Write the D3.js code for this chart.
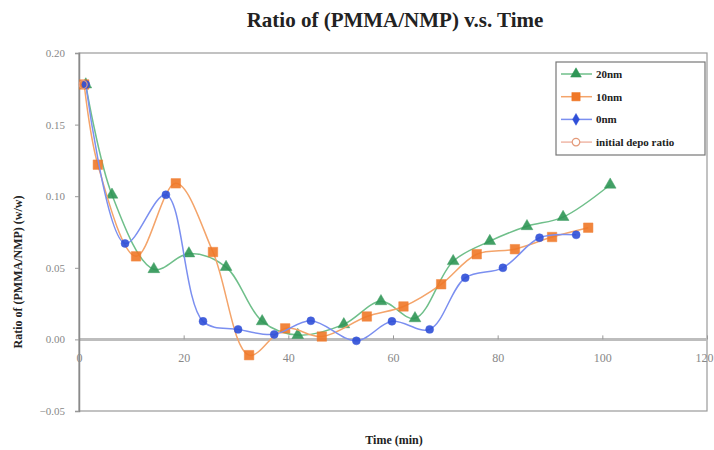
<!DOCTYPE html>
<html>
<head>
<meta charset="utf-8">
<script src="https://cdn.jsdelivr.net/npm/d3@7"></script>
<style>
  html, body { margin: 0; padding: 0; background: #fff; }
  svg { display: block; }
</style>
</head>
<body>
<div id="chart"></div>
<script>
// values (time in min, ratio w/w)
const seriesNames = ["20nm", "10nm", "0nm", "initial depo ratio"];

const time20 = [1.3, 6.3, 14.3, 21, 28.1, 35, 41.8, 50.6, 57.7, 64.2, 71.5, 78.5, 85.6, 92.5, 101.5];
const ratio20 = [0.178, 0.101, 0.049, 0.060, 0.0505, 0.0126, 0.003, 0.0105, 0.0266, 0.0147, 0.0546, 0.0686, 0.079, 0.0854, 0.108];

const time10 = [1.0, 3.6, 10.9, 18.5, 25.6, 32.5, 39.4, 46.4, 55, 62, 69.2, 76, 83.3, 90.4, 97.3];
const ratio10 = [0.178, 0.122, 0.058, 0.109, 0.061, -0.011, 0.0077, 0.002, 0.016, 0.023, 0.0385, 0.0595, 0.063, 0.0715, 0.078];

const time0 = [1.3, 8.8, 16.6, 23.7, 30.4, 37.3, 44.3, 53, 59.8, 67, 73.8, 81, 88, 95];
const ratio0 = [0.178, 0.067, 0.101, 0.0126, 0.007, 0.0035, 0.013, -0.001, 0.0126, 0.007, 0.043, 0.050, 0.071, 0.073];

const timeInit = [0.8];
const ratioInit = [0.178];

const xTicks = [0, 20, 40, 60, 80, 100, 120];
const yTicks = [-0.05, 0, 0.05, 0.10, 0.15, 0.20];

const W = 714, H = 450;
const margin = { top: 53, right: 7, bottom: 39, left: 79 };
const innerW = W - margin.left - margin.right;
const innerH = H - margin.top - margin.bottom;

const svg = d3.select("#chart").append("svg")
    .attr("width", W)
    .attr("height", H)
    .style("font-family", "'Liberation Serif', 'DejaVu Serif', serif");

svg.append("text")
    .attr("x", 395).attr("y", 27)
    .attr("text-anchor", "middle")
    .style("font-size", "21px").style("font-weight", "bold")
    .style("fill", "#222")
    .text("Ratio of (PMMA/NMP) v.s. Time");

const g = svg.append("g").attr("transform", `translate(${margin.left},${margin.top})`);

const x = d3.scaleLinear().domain([0, 120]).range([0, innerW]);
const y = d3.scaleLinear().domain([-0.05, 0.20]).range([innerH, 0]);

// frame
g.append("rect")
    .attr("width", innerW).attr("height", innerH)
    .attr("fill", "none").attr("stroke", "#9a9a9a").attr("stroke-width", 1.2);

// zero line
g.append("line")
    .attr("x1", 0).attr("x2", innerW)
    .attr("y1", y(0)).attr("y2", y(0))
    .attr("stroke", "#bdbdbd").attr("stroke-width", 3);

// x axis on the zero line
const xAxis = g.append("g")
    .attr("transform", `translate(0,${y(0)})`)
    .call(d3.axisBottom(x).tickValues(xTicks).tickFormat(d3.format("d")).tickSize(-4).tickPadding(14));
xAxis.select(".domain").remove();
xAxis.selectAll("line").attr("stroke", "#999");
xAxis.selectAll("text")
    .style("font-family", "'Liberation Serif', serif")
    .style("font-size", "12px").attr("fill", "#888")
    .filter(d => d === 120)
    .attr("text-anchor", "end").attr("dx", "6");

// y axis
const yAxis = g.append("g")
    .call(d3.axisLeft(y).tickValues(yTicks).tickFormat(d3.format(".2f")).tickSize(4).tickPadding(10));
yAxis.select(".domain").attr("stroke", "#8a8a8a").attr("stroke-width", 1.5);
yAxis.selectAll("line").attr("stroke", "#999");
yAxis.selectAll("text")
    .style("font-family", "'Liberation Serif', serif")
    .style("font-size", "11px").attr("fill", "#888");

// axis titles
svg.append("text")
    .attr("x", 394).attr("y", 444)
    .attr("text-anchor", "middle")
    .style("font-size", "12px").style("font-weight", "bold").style("fill", "#222")
    .text("Time (min)");

svg.append("text")
    .attr("transform", "translate(22,272) rotate(-90)")
    .attr("text-anchor", "middle")
    .style("font-size", "12px").style("font-weight", "bold").style("fill", "#222")
    .text("Ratio of (PMMA/NMP) (w/w)");

const series = [
  { name: seriesNames[0], t: time20, v: ratio20, color: "#2f9656", line: "#6fbf8a", shape: d3.symbolTriangle, size: 60 },
  { name: seriesNames[1], t: time10, v: ratio10, color: "#f07828", line: "#f4a46a", shape: d3.symbolSquare, size: 90 },
  { name: seriesNames[2], t: time0, v: ratio0, color: "#2f4fd8", line: "#7b8ff0", shape: d3.symbolCircle, size: 50 }
];

const line = d3.line()
    .x(d => x(d[0])).y(d => y(d[1]))
    .curve(d3.curveCatmullRom.alpha(0.5));

series.forEach(s => {
  const pts = s.t.map((t, i) => [t, s.v[i]]);
  g.append("path")
      .datum(pts)
      .attr("d", line)
      .attr("fill", "none")
      .attr("stroke", s.line)
      .attr("stroke-width", 1.5);
  g.selectAll(null)
      .data(pts)
      .join("path")
      .attr("transform", d => `translate(${x(d[0])},${y(d[1])})`)
      .attr("d", d3.symbol(s.shape, s.size)())
      .attr("fill", s.color)
      .attr("stroke", s.color)
      .attr("stroke-width", 0.5)
      .attr("opacity", 0.9);
});

// initial depo ratio
g.selectAll(null)
    .data(timeInit.map((t, i) => [t, ratioInit[i]]))
    .join("circle")
    .attr("cx", d => x(d[0])).attr("cy", d => y(d[1]))
    .attr("r", 4).attr("fill", "none")
    .attr("stroke", "#e39a7a").attr("stroke-width", 1.2);

// legend
const leg = svg.append("g").attr("transform", "translate(556,62)");
leg.append("rect")
    .attr("width", 149).attr("height", 93)
    .attr("fill", "#fff").attr("stroke", "#777").attr("stroke-width", 1.2);

const legItems = [
  { name: seriesNames[0], color: "#2f9656", line: "#6fbf8a", shape: d3.symbolTriangle, size: 50, fill: true },
  { name: seriesNames[1], color: "#f07828", line: "#f4a46a", shape: d3.symbolSquare, size: 70, fill: true },
  { name: seriesNames[2], color: "#2f4fd8", line: "#7b8ff0", shape: d3.symbolDiamond, size: 40, fill: true },
  { name: seriesNames[3], color: "#e39a7a", line: "#f0b8a8", shape: d3.symbolCircle, size: 45, fill: false }
];

legItems.forEach((it, i) => {
  const row = leg.append("g").attr("transform", `translate(0,${12 + i * 22.7})`);
  row.append("line")
      .attr("x1", 5).attr("x2", 36).attr("y1", 0).attr("y2", 0)
      .attr("stroke", it.line).attr("stroke-width", 1.5);
  row.append("path")
      .attr("transform", "translate(20,0)")
      .attr("d", d3.symbol(it.shape, it.size)())
      .attr("fill", it.fill ? it.color : "#fff")
      .attr("stroke", it.color).attr("stroke-width", it.fill ? 0.5 : 1.2);
  row.append("text")
      .attr("x", 40).attr("y", 4)
      .style("font-size", "11px").style("font-weight", "bold").style("fill", "#222")
      .text(it.name);
});
</script>
</body>
</html>
